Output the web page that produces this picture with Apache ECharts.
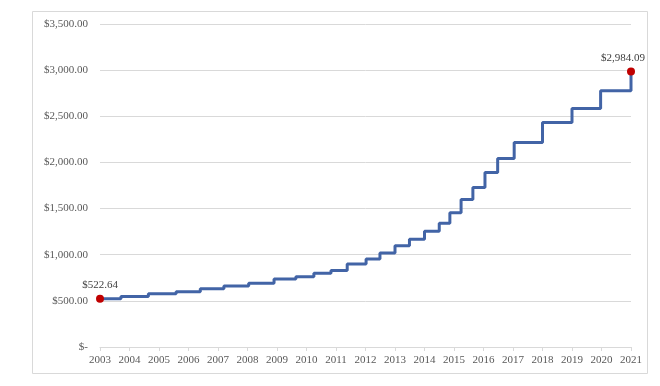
<!DOCTYPE html>
<html>
<head>
<meta charset="utf-8">
<script src="https://cdn.jsdelivr.net/npm/echarts@6/dist/echarts.min.js"></script>
<style>
html,body{margin:0;padding:0;background:#fff;}
#chart{width:660px;height:386px;}
</style>
</head>
<body>
<div id="chart"></div>
<script>
// Time of each step (year, fractional) and the value from that point on
const stepTimes = [2003.00, 2003.71, 2004.64, 2005.58, 2006.40, 2007.20, 2008.04, 2008.90, 2009.64, 2010.25,
  2010.83, 2011.38, 2012.02, 2012.49, 2013.00, 2013.49, 2014.00, 2014.50, 2014.86, 2015.24,
  2015.64, 2016.05, 2016.48, 2017.04, 2018.00, 2019.00, 2019.97, 2021.00];
const stepValues = [522.64, 546, 576, 600, 630, 662, 690, 738, 761, 798,
  830, 899, 953, 1018, 1098, 1168, 1253, 1342, 1454, 1597,
  1727, 1892, 2042, 2215, 2432, 2584, 2776, 2984.09];
const yearTicks = [2003, 2021];
const yTickValues = [0, 500, 1000, 1500, 2000, 2500, 3000, 3500];

function money(v) {
  if (v === 0) return '$-';
  return '$' + v.toLocaleString('en-US', {minimumFractionDigits: 2, maximumFractionDigits: 2});
}

const lastIdx = stepTimes.length - 1;
const data = stepTimes.map((t, i) => {
  const item = {value: [t, stepValues[i]]};
  if (i === 0 || i === lastIdx) {
    item.symbol = 'circle';
    item.symbolSize = 8;
    item.itemStyle = {color: '#c00000'};
    item.label = {
      show: true,
      position: 'top',
      distance: 4,
      offset: i === lastIdx ? [-8, 0] : [0, 0],
      formatter: money(stepValues[i]),
      fontFamily: 'Liberation Serif',
      fontSize: 11,
      color: '#404040'
    };
  }
  return item;
});

const chart = echarts.init(document.getElementById('chart'));
chart.setOption({
  animation: false,
  backgroundColor: '#fff',
  graphic: [{
    type: 'rect',
    shape: {x: 32.5, y: 11.5, width: 615, height: 362},
    style: {fill: 'none', stroke: '#d9d9d9', lineWidth: 1},
    silent: true,
    z: -1
  }],
  grid: {left: 100, right: 29, top: 24, bottom: 39},
  xAxis: {
    type: 'value',
    min: yearTicks[0],
    max: yearTicks[1],
    interval: 1,
    axisLine: {show: true, lineStyle: {color: '#d9d9d9', width: 1}},
    axisTick: {show: true, length: 4, lineStyle: {color: '#d9d9d9'}},
    splitLine: {show: false},
    axisLabel: {
      fontFamily: 'Liberation Serif', fontSize: 11, color: '#595959', margin: 8,
      formatter: v => String(v)
    }
  },
  yAxis: {
    type: 'value',
    min: yTickValues[0],
    max: yTickValues[yTickValues.length - 1],
    interval: 500,
    axisLine: {show: false},
    axisTick: {show: false},
    splitLine: {show: true, lineStyle: {color: '#d9d9d9', width: 1}},
    axisLabel: {
      fontFamily: 'Liberation Serif', fontSize: 11, color: '#595959', margin: 12,
      formatter: money
    }
  },
  series: [{
    type: 'line',
    step: 'end',
    symbol: 'none',
    showSymbol: true,
    data: data,
    lineStyle: {color: '#4264a6', width: 3},
    itemStyle: {color: '#c00000'},
    z: 3
  }]
});
</script>
</body>
</html>
